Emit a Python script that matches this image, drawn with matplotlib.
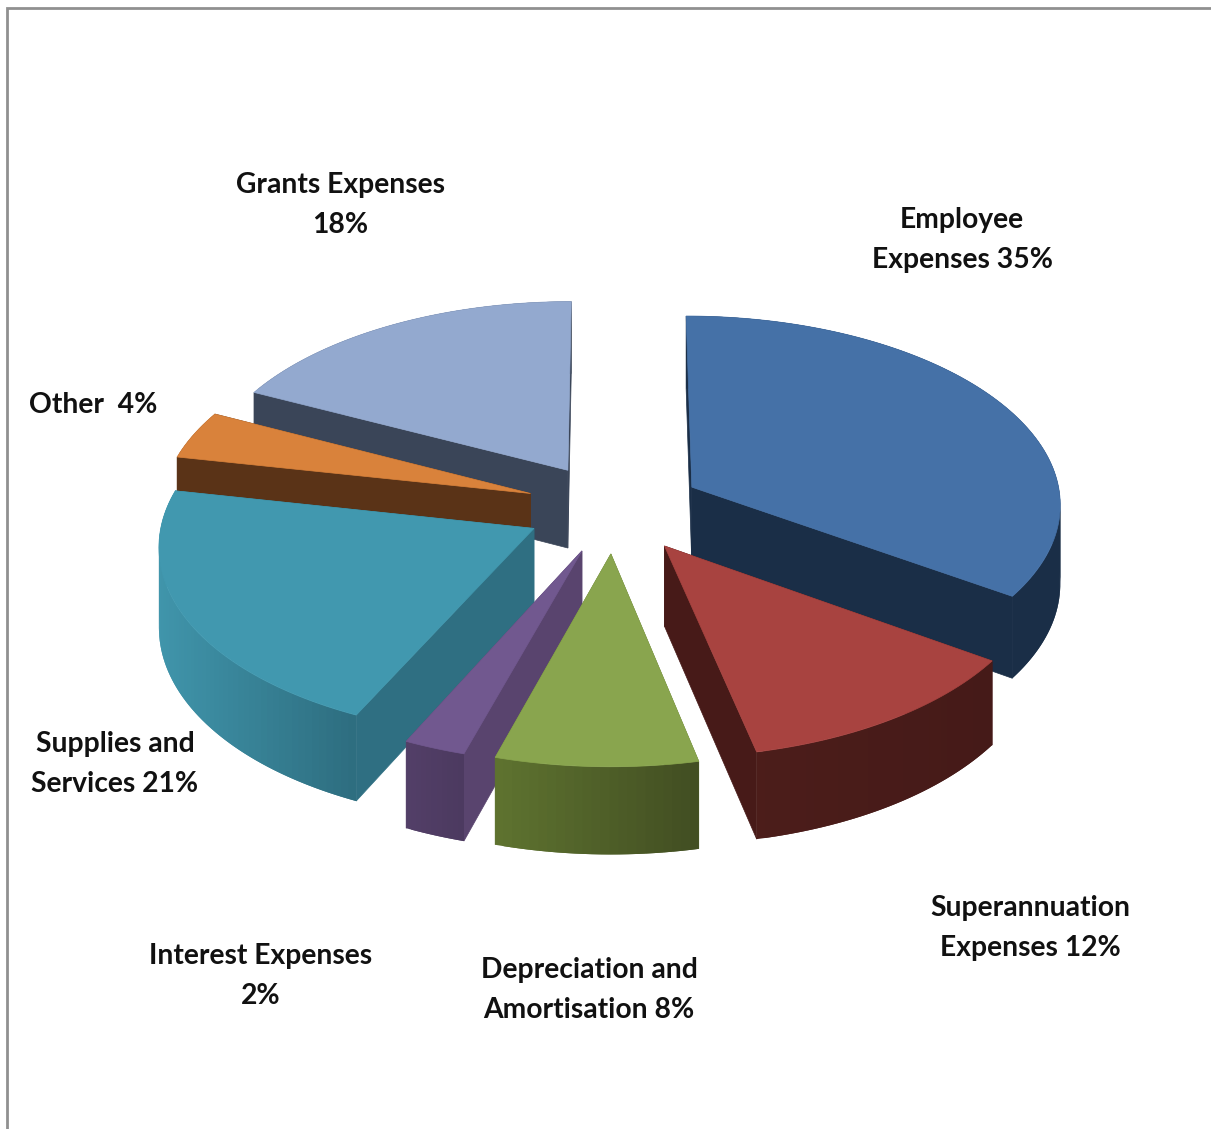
import numpy as np
import matplotlib
matplotlib.use('Agg')
import matplotlib.pyplot as plt
from matplotlib.patches import Polygon

# percent, clockwise from 12 o'clock (labels show them rounded)
categories = ['Employee\nExpenses 35%', 'Superannuation\nExpenses 12%', 'Depreciation and\nAmortisation 8%',
              'Interest Expenses\n2%', 'Supplies and\nServices 21%', 'Other  4%', 'Grants Expenses\n18%']
values = [34.55, 12.0, 8.0, 2.45, 21.2, 4.1, 17.7]

top_colors = ['#4571A7', '#A84340', '#89A54E', '#71588F', '#4198AF', '#D9823B', '#93A9CF']
cut_colors = ['#1A2E47', '#471A18', '#5F7430', '#59446E', '#2F6F82', '#5A3317', '#3A4558']
wall_left = ['#1A2E47', '#4C1D1A', '#5F7430', '#533F68', '#4095AB', '#5A3317', '#3A4558']
wall_right = ['#1A2E47', '#451A18', '#424E22', '#4C3A60', '#2E6E80', '#5A3317', '#3A4558']

label_x = [962, 1030, 589, 261, 115, 93, 340]
label_y = [240, 928, 990, 976, 764, 405, 205]

# projection of the tilted disc onto the page, in pixels
CX, CY = 614, 508
RX, RY = 370, 188
PERSP = 0.08
EXPLODE = 0.24
HEIGHT = 79


def project(x, y, z=0.0):
    s = 1.0 / (1.0 + PERSP * y)
    return CX + RX * x * s, CY - RY * y * s + HEIGHT * z * s


def blend(c1, c2, t):
    a = np.array(matplotlib.colors.to_rgb(c1))
    b = np.array(matplotlib.colors.to_rgb(c2))
    return tuple(a + (b - a) * t)


fig = plt.figure(figsize=(12.11, 11.29), dpi=100)
ax = fig.add_axes([0, 0, 1, 1])
ax.set_xlim(0, 1211)
ax.set_ylim(1129, 0)
ax.axis('off')

edges = np.cumsum([0] + values) / sum(values) * 2 * np.pi
slices = []
for i in range(len(values)):
    a0, a1 = edges[i], edges[i + 1]
    mid = (a0 + a1) / 2
    slices.append((i, a0, a1, EXPLODE * np.sin(mid), EXPLODE * np.cos(mid)))

# far slices first so the near ones paint over them
slices.sort(key=lambda t: -t[4])

for i, a0, a1, ox, oy in slices:
    th = np.linspace(a0, a1, max(int(values[i] * 3), 12))
    px = ox + np.sin(th)
    py = oy + np.cos(th)

    # radial cut faces
    for ex, ey in [(px[0], py[0]), (px[-1], py[-1])]:
        quad = [project(ox, oy), project(ex, ey), project(ex, ey, 1), project(ox, oy, 1)]
        ax.add_patch(Polygon(quad, closed=True, fc=cut_colors[i], ec=cut_colors[i], lw=0.5))

    # outer wall, split up for the shading: lighter on the left, darker on the right
    sx = project(px, py)[0]
    n = len(th)
    order = range(n - 1) if sx[0] < sx[-1] else range(n - 2, -1, -1)
    for k in order:
        t = (sx[k] - sx.min()) / (sx.max() - sx.min())
        col = blend(wall_left[i], wall_right[i], t)
        # each strip laps over the next one so no seams show
        k2 = min(k + 2, n - 1) if sx[0] < sx[-1] else k + 1
        k1 = k if sx[0] < sx[-1] else max(k - 1, 0)
        quad = [project(px[j], py[j]) for j in range(k1, k2 + 1)]
        quad += [project(px[j], py[j], 1) for j in range(k2, k1 - 1, -1)]
        ax.add_patch(Polygon(quad, closed=True, fc=col, ec='none', lw=0, snap=False))

    # top
    tx, ty = project(px, py)
    ax_, ay_ = project(ox, oy)
    pts = np.column_stack([np.r_[ax_, tx], np.r_[ay_, ty]])
    ax.add_patch(Polygon(pts, closed=True, fc=top_colors[i], ec=top_colors[i], lw=0.5))

for name, x, y in zip(categories, label_x, label_y):
    ax.text(x, y, name, ha='center', va='center', fontsize=20.3, family='Lato', weight='bold',
            color='#111111', linespacing=1.7)

# chart frame
ax.plot([7, 7, 1211], [1129, 8, 8], color='#909090', lw=2, solid_joinstyle='miter')

fig.savefig('out.png', dpi=100)
